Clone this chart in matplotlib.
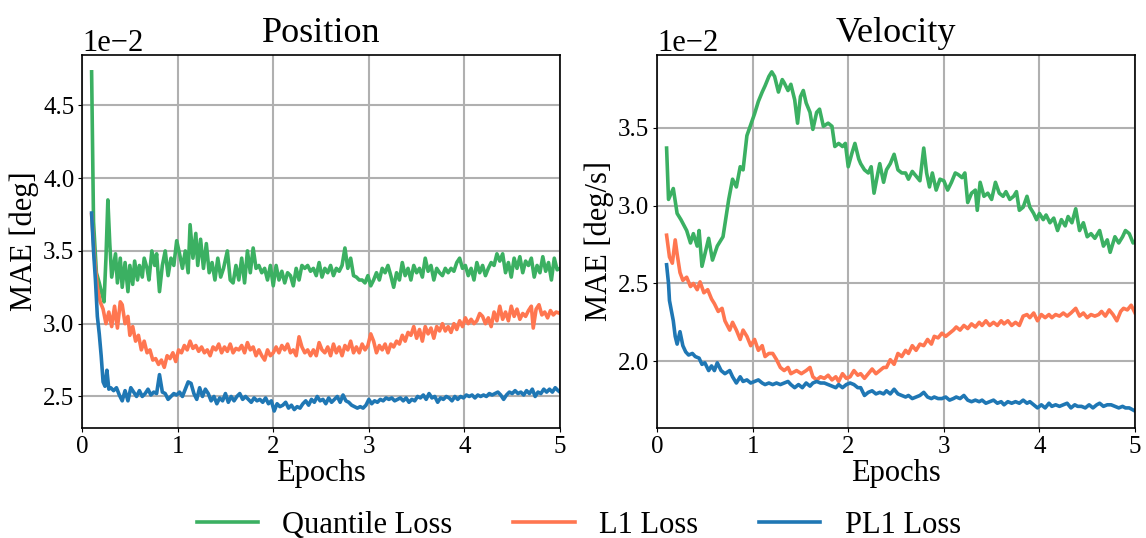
import matplotlib
matplotlib.use("Agg")
import matplotlib.pyplot as plt
import numpy as np

plt.rcParams["font.family"] = ["Liberation Serif", "DejaVu Serif"]
plt.rcParams["mathtext.fontset"] = "stix"

# --- Position panel (values in units of 1e-2 deg) ---
pos_quant_x = [0.10, 0.12, 0.15, 0.18, 0.21, 0.23, 0.25, 0.27, 0.29, 0.31, 0.33, 0.35, 0.37, 0.40, 0.42,
               0.45, 0.48, 0.50, 0.53, 0.55, 0.58, 0.60, 0.63, 0.65, 0.68, 0.70, 0.73, 0.76, 0.78, 0.81,
               0.84, 0.87, 0.90, 0.93, 0.96, 0.99, 1.02, 1.05, 1.08, 1.11, 1.13, 1.16, 1.19, 1.21, 1.24,
               1.27, 1.30, 1.33, 1.36, 1.39, 1.42, 1.45, 1.48, 1.52, 1.55, 1.58, 1.61, 1.64, 1.67, 1.70,
               1.73, 1.76, 1.79, 1.82, 1.85, 1.88, 1.91, 1.94, 1.97, 2.00, 2.03, 2.06, 2.09, 2.12, 2.15,
               2.18, 2.21, 2.24, 2.27, 2.30, 2.33, 2.36, 2.39, 2.42, 2.45, 2.48, 2.51, 2.54, 2.57, 2.60,
               2.63, 2.66, 2.69, 2.72, 2.75, 2.78, 2.81, 2.84, 2.87, 2.90, 2.93, 2.96, 2.99, 3.02, 3.05,
               3.08, 3.11, 3.14, 3.17, 3.20, 3.23, 3.26, 3.29, 3.32, 3.35, 3.38, 3.41, 3.44, 3.47, 3.50,
               3.53, 3.56, 3.59, 3.62, 3.65, 3.68, 3.71, 3.74, 3.77, 3.80, 3.83, 3.86, 3.89, 3.92, 3.95,
               3.98, 4.01, 4.04, 4.07, 4.10, 4.13, 4.16, 4.19, 4.22, 4.25, 4.28, 4.31, 4.34, 4.37, 4.40,
               4.43, 4.46, 4.49, 4.52, 4.55, 4.58, 4.61, 4.64, 4.67, 4.70, 4.73, 4.76, 4.79, 4.82, 4.85,
               4.88, 4.91, 4.94, 4.97, 5.00]
pos_quant_y = [4.73, 3.70, 3.35, 3.28, 3.20, 3.15, 3.45, 3.85, 3.55, 3.32, 3.40, 3.48, 3.28, 3.45, 3.25,
               3.42, 3.22, 3.40, 3.27, 3.43, 3.30, 3.40, 3.32, 3.45, 3.38, 3.30, 3.50, 3.40, 3.48, 3.22,
               3.40, 3.50, 3.33, 3.45, 3.40, 3.57, 3.48, 3.38, 3.50, 3.35, 3.68, 3.45, 3.62, 3.40, 3.58,
               3.38, 3.55, 3.35, 3.42, 3.30, 3.45, 3.32, 3.38, 3.50, 3.30, 3.28, 3.40, 3.30, 3.45, 3.28,
               3.50, 3.35, 3.52, 3.38, 3.40, 3.35, 3.38, 3.30, 3.40, 3.26, 3.40, 3.30, 3.36, 3.28, 3.35,
               3.33, 3.26, 3.38, 3.30, 3.40, 3.38, 3.40, 3.36, 3.38, 3.33, 3.42, 3.32, 3.38, 3.35, 3.40,
               3.33, 3.38, 3.36, 3.40, 3.52, 3.38, 3.45, 3.33, 3.32, 3.30, 3.30, 3.28, 3.33, 3.26, 3.30,
               3.35, 3.30, 3.38, 3.35, 3.40, 3.33, 3.25, 3.35, 3.30, 3.42, 3.33, 3.38, 3.30, 3.40, 3.35,
               3.38, 3.32, 3.45, 3.36, 3.40, 3.30, 3.38, 3.35, 3.33, 3.38, 3.35, 3.38, 3.36, 3.42, 3.45,
               3.38, 3.40, 3.33, 3.38, 3.30, 3.42, 3.35, 3.40, 3.33, 3.38, 3.42, 3.40, 3.48, 3.43, 3.48,
               3.35, 3.42, 3.32, 3.45, 3.38, 3.46, 3.35, 3.43, 3.40, 3.45, 3.32, 3.40, 3.35, 3.46, 3.36,
               3.42, 3.30, 3.45, 3.37, 3.38]

pos_l1_x = [0.10, 0.13, 0.16, 0.19, 0.22, 0.25, 0.28, 0.31, 0.34, 0.37, 0.40, 0.42, 0.45, 0.48, 0.50,
            0.53, 0.56, 0.59, 0.62, 0.65, 0.68, 0.71, 0.74, 0.77, 0.80, 0.83, 0.86, 0.89, 0.92, 0.95,
            0.98, 1.01, 1.04, 1.07, 1.10, 1.13, 1.16, 1.19, 1.22, 1.25, 1.28, 1.31, 1.34, 1.37, 1.40,
            1.43, 1.46, 1.49, 1.52, 1.55, 1.58, 1.61, 1.64, 1.67, 1.70, 1.73, 1.76, 1.79, 1.82, 1.85,
            1.88, 1.91, 1.94, 1.97, 2.00, 2.03, 2.06, 2.09, 2.12, 2.15, 2.18, 2.21, 2.24, 2.27, 2.30,
            2.33, 2.36, 2.39, 2.42, 2.45, 2.48, 2.51, 2.54, 2.57, 2.60, 2.63, 2.66, 2.69, 2.72, 2.75,
            2.78, 2.81, 2.84, 2.87, 2.90, 2.93, 2.96, 2.99, 3.02, 3.05, 3.08, 3.11, 3.14, 3.17, 3.20,
            3.23, 3.26, 3.29, 3.32, 3.35, 3.38, 3.41, 3.44, 3.47, 3.50, 3.53, 3.56, 3.59, 3.62, 3.65,
            3.68, 3.71, 3.74, 3.77, 3.80, 3.83, 3.86, 3.89, 3.92, 3.95, 3.98, 4.01, 4.04, 4.07, 4.10,
            4.13, 4.16, 4.19, 4.22, 4.25, 4.28, 4.31, 4.34, 4.37, 4.40, 4.43, 4.46, 4.49, 4.52, 4.55,
            4.58, 4.61, 4.64, 4.67, 4.70, 4.72, 4.75, 4.78, 4.81, 4.84, 4.87, 4.90, 4.93, 4.96, 5.00]
pos_l1_y = [3.75, 3.45, 3.25, 3.15, 3.10, 3.00, 3.08, 2.98, 3.12, 2.97, 3.15, 3.13, 3.00, 3.05, 2.92,
            2.98, 2.88, 2.92, 2.82, 2.88, 2.80, 2.82, 2.75, 2.76, 2.72, 2.75, 2.70, 2.78, 2.76, 2.80,
            2.74, 2.82, 2.80, 2.85, 2.82, 2.88, 2.83, 2.85, 2.81, 2.84, 2.80, 2.82, 2.78, 2.84, 2.82,
            2.86, 2.80, 2.84, 2.81, 2.86, 2.80, 2.83, 2.82, 2.85, 2.80, 2.87, 2.82, 2.84, 2.78, 2.82,
            2.78, 2.75, 2.82, 2.78, 2.80, 2.84, 2.80, 2.85, 2.82, 2.86, 2.80, 2.82, 2.78, 2.91, 2.84,
            2.80, 2.82, 2.78, 2.82, 2.78, 2.87, 2.82, 2.80, 2.84, 2.78, 2.86, 2.80, 2.84, 2.78, 2.85,
            2.82, 2.88, 2.80, 2.84, 2.80, 2.86, 2.82, 2.85, 2.93, 2.88, 2.80, 2.85, 2.82, 2.86, 2.80,
            2.86, 2.84, 2.88, 2.86, 2.92, 2.88, 2.94, 2.92, 2.98, 2.90, 2.96, 2.88, 2.98, 2.93, 2.97,
            2.90, 2.98, 2.95, 3.00, 2.95, 2.98, 2.94, 3.00, 2.96, 3.02, 2.98, 3.04, 3.00, 3.03, 3.00,
            3.02, 3.07, 3.05, 3.00, 3.04, 2.98, 3.08, 3.02, 3.12, 3.03, 3.08, 3.02, 3.12, 3.05, 3.10,
            3.03, 3.07, 3.05, 3.09, 3.12, 2.97, 3.10, 3.13, 3.06, 3.08, 3.04, 3.09, 3.06, 3.08, 3.07]

pos_pl1_x = [0.10, 0.12, 0.14, 0.16, 0.18, 0.20, 0.22, 0.24, 0.26, 0.28, 0.30, 0.33, 0.36, 0.39, 0.42,
             0.45, 0.48, 0.51, 0.54, 0.57, 0.60, 0.63, 0.66, 0.69, 0.72, 0.75, 0.78, 0.81, 0.84, 0.87,
             0.90, 0.93, 0.96, 0.99, 1.02, 1.05, 1.08, 1.11, 1.14, 1.17, 1.20, 1.23, 1.26, 1.29, 1.32,
             1.35, 1.38, 1.41, 1.44, 1.47, 1.50, 1.53, 1.56, 1.59, 1.62, 1.65, 1.68, 1.71, 1.74, 1.77,
             1.80, 1.83, 1.86, 1.89, 1.92, 1.95, 1.98, 2.01, 2.04, 2.07, 2.10, 2.13, 2.16, 2.19, 2.22,
             2.25, 2.28, 2.31, 2.34, 2.37, 2.40, 2.43, 2.46, 2.49, 2.52, 2.55, 2.58, 2.61, 2.64, 2.67,
             2.70, 2.73, 2.76, 2.79, 2.82, 2.85, 2.88, 2.91, 2.94, 2.97, 3.00, 3.03, 3.06, 3.09, 3.12,
             3.15, 3.18, 3.21, 3.24, 3.27, 3.30, 3.33, 3.36, 3.39, 3.42, 3.45, 3.48, 3.51, 3.54, 3.57,
             3.60, 3.63, 3.66, 3.69, 3.72, 3.75, 3.78, 3.81, 3.84, 3.87, 3.90, 3.93, 3.96, 3.99, 4.02,
             4.05, 4.08, 4.11, 4.14, 4.17, 4.20, 4.23, 4.26, 4.29, 4.32, 4.35, 4.38, 4.41, 4.44, 4.47,
             4.50, 4.53, 4.56, 4.59, 4.62, 4.65, 4.68, 4.71, 4.74, 4.77, 4.80, 4.83, 4.86, 4.89, 4.92,
             4.95, 4.98, 5.00]
pos_pl1_y = [3.76, 3.50, 3.30, 3.05, 2.93, 2.78, 2.60, 2.57, 2.68, 2.55, 2.56, 2.54, 2.56, 2.51, 2.47,
             2.54, 2.47, 2.56, 2.53, 2.50, 2.54, 2.50, 2.52, 2.55, 2.51, 2.53, 2.52, 2.65, 2.53, 2.52,
             2.48, 2.50, 2.52, 2.51, 2.53, 2.50, 2.55, 2.60, 2.59, 2.52, 2.48, 2.56, 2.50, 2.55, 2.52,
             2.47, 2.50, 2.45, 2.49, 2.47, 2.52, 2.46, 2.50, 2.47, 2.50, 2.52, 2.48, 2.50, 2.48, 2.46,
             2.49, 2.47, 2.48, 2.46, 2.49, 2.45, 2.47, 2.40, 2.45, 2.43, 2.44, 2.46, 2.42, 2.44, 2.41,
             2.43, 2.42, 2.45, 2.47, 2.44, 2.48, 2.46, 2.50, 2.47, 2.48, 2.45, 2.49, 2.46, 2.48, 2.50,
             2.46, 2.51, 2.47, 2.46, 2.44, 2.43, 2.42, 2.43, 2.42, 2.44, 2.48, 2.45, 2.47, 2.46, 2.48,
             2.47, 2.49, 2.48, 2.49, 2.47, 2.48, 2.49, 2.47, 2.49, 2.46, 2.48, 2.47, 2.50, 2.49, 2.51,
             2.48, 2.52, 2.49, 2.50, 2.46, 2.49, 2.48, 2.50, 2.49, 2.47, 2.50, 2.48, 2.50, 2.49, 2.51,
             2.50, 2.51, 2.49, 2.51, 2.50, 2.51, 2.50, 2.52, 2.51, 2.52, 2.53, 2.51, 2.48, 2.51, 2.53,
             2.52, 2.54, 2.52, 2.53, 2.51, 2.54, 2.52, 2.55, 2.50, 2.53, 2.52, 2.55, 2.53, 2.55, 2.53,
             2.56, 2.54, 2.53]

# --- Velocity panel (values in units of 1e-2 deg/s) ---
vel_quant_x = [0.10, 0.12, 0.17, 0.21, 0.25, 0.31, 0.35, 0.38, 0.42, 0.44, 0.47, 0.54, 0.58, 0.63, 0.69,
               0.75, 0.79, 0.83, 0.87, 0.90, 0.94, 0.98, 1.02, 1.06, 1.10, 1.13, 1.17, 1.20, 1.23, 1.27,
               1.31, 1.33, 1.37, 1.40, 1.44, 1.47, 1.50, 1.53, 1.56, 1.60, 1.63, 1.67, 1.70, 1.74, 1.79,
               1.83, 1.86, 1.90, 1.94, 1.97, 2.00, 2.04, 2.07, 2.11, 2.13, 2.17, 2.21, 2.24, 2.27, 2.31,
               2.33, 2.37, 2.40, 2.44, 2.48, 2.52, 2.56, 2.60, 2.63, 2.67, 2.71, 2.75, 2.79, 2.82, 2.85,
               2.88, 2.92, 2.96, 3.00, 3.04, 3.08, 3.12, 3.15, 3.19, 3.22, 3.25, 3.29, 3.33, 3.35, 3.38,
               3.42, 3.46, 3.50, 3.54, 3.58, 3.62, 3.65, 3.69, 3.73, 3.76, 3.79, 3.83, 3.87, 3.90, 3.94,
               3.97, 4.00, 4.04, 4.07, 4.11, 4.15, 4.19, 4.23, 4.27, 4.30, 4.34, 4.38, 4.42, 4.46, 4.50,
               4.54, 4.58, 4.63, 4.67, 4.71, 4.74, 4.79, 4.83, 4.87, 4.90, 4.94, 4.98, 5.00]
vel_quant_y = [3.37, 3.04, 3.11, 2.95, 2.91, 2.84, 2.76, 2.82, 2.74, 2.84, 2.61, 2.79, 2.65, 2.74, 2.80,
               3.04, 3.17, 3.12, 3.25, 3.23, 3.45, 3.52, 3.59, 3.67, 3.73, 3.77, 3.83, 3.86, 3.83, 3.73,
               3.81, 3.79, 3.74, 3.78, 3.68, 3.53, 3.70, 3.74, 3.66, 3.60, 3.49, 3.60, 3.62, 3.51, 3.53,
               3.51, 3.38, 3.40, 3.38, 3.40, 3.25, 3.34, 3.40, 3.30, 3.27, 3.23, 3.21, 3.25, 3.08, 3.21,
               3.27, 3.15, 3.23, 3.27, 3.33, 3.23, 3.21, 3.21, 3.17, 3.22, 3.19, 3.16, 3.37, 3.21, 3.12,
               3.21, 3.10, 3.17, 3.16, 3.10, 3.15, 3.21, 3.20, 3.18, 3.21, 3.02, 3.08, 3.10, 2.97, 3.15,
               3.06, 3.08, 3.04, 3.15, 3.08, 3.06, 3.09, 3.04, 3.06, 3.09, 2.97, 2.99, 3.06, 2.99, 2.95,
               2.91, 2.95, 2.91, 2.94, 2.89, 2.92, 2.84, 2.91, 2.87, 2.93, 2.89, 2.98, 2.84, 2.89, 2.80,
               2.82, 2.79, 2.84, 2.74, 2.78, 2.70, 2.80, 2.76, 2.80, 2.84, 2.82, 2.76, 2.77]

vel_l1_x = [0.10, 0.13, 0.16, 0.19, 0.21, 0.24, 0.27, 0.31, 0.35, 0.38, 0.42, 0.45, 0.49, 0.53, 0.57,
            0.60, 0.64, 0.68, 0.71, 0.76, 0.79, 0.83, 0.87, 0.90, 0.94, 0.98, 1.02, 1.06, 1.10, 1.13,
            1.17, 1.21, 1.25, 1.29, 1.33, 1.37, 1.40, 1.46, 1.51, 1.56, 1.60, 1.63, 1.67, 1.71, 1.75,
            1.79, 1.83, 1.87, 1.90, 1.94, 1.98, 2.02, 2.06, 2.10, 2.13, 2.17, 2.21, 2.25, 2.29, 2.33,
            2.37, 2.40, 2.44, 2.48, 2.52, 2.56, 2.60, 2.63, 2.67, 2.71, 2.75, 2.79, 2.83, 2.87, 2.90,
            2.94, 2.98, 3.02, 3.06, 3.10, 3.13, 3.17, 3.21, 3.25, 3.29, 3.33, 3.37, 3.40, 3.44, 3.48,
            3.52, 3.56, 3.60, 3.63, 3.67, 3.71, 3.75, 3.79, 3.83, 3.87, 3.90, 3.94, 3.98, 4.02, 4.06,
            4.10, 4.13, 4.17, 4.21, 4.25, 4.29, 4.33, 4.38, 4.42, 4.46, 4.50, 4.54, 4.58, 4.62, 4.65,
            4.69, 4.73, 4.77, 4.81, 4.85, 4.88, 4.92, 4.96, 5.00]
vel_l1_y = [2.81, 2.67, 2.63, 2.78, 2.69, 2.57, 2.52, 2.54, 2.48, 2.50, 2.46, 2.51, 2.44, 2.46, 2.40,
            2.37, 2.32, 2.34, 2.26, 2.20, 2.25, 2.20, 2.14, 2.20, 2.16, 2.10, 2.14, 2.07, 2.10, 2.03,
            2.05, 2.05, 2.01, 1.96, 1.94, 1.96, 1.92, 1.94, 1.92, 1.94, 1.96, 1.90, 1.88, 1.90, 1.89,
            1.91, 1.88, 1.90, 1.87, 1.92, 1.89, 1.90, 1.94, 1.91, 1.92, 1.89, 1.92, 1.95, 1.92, 1.94,
            1.96, 1.96, 2.01, 1.98, 2.05, 2.03, 2.07, 2.05, 2.10, 2.07, 2.11, 2.10, 2.14, 2.11, 2.16,
            2.15, 2.18, 2.16, 2.18, 2.20, 2.22, 2.20, 2.23, 2.21, 2.24, 2.22, 2.25, 2.23, 2.26, 2.23,
            2.25, 2.23, 2.26, 2.24, 2.26, 2.23, 2.25, 2.23, 2.29, 2.30, 2.28, 2.31, 2.26, 2.30, 2.28,
            2.30, 2.28, 2.30, 2.29, 2.31, 2.29, 2.31, 2.34, 2.29, 2.31, 2.28, 2.30, 2.29, 2.30, 2.32,
            2.29, 2.33, 2.30, 2.26, 2.32, 2.34, 2.33, 2.36, 2.31]

vel_pl1_x = [0.10, 0.12, 0.13, 0.17, 0.19, 0.21, 0.24, 0.27, 0.30, 0.33, 0.37, 0.40, 0.44, 0.47, 0.50,
             0.54, 0.57, 0.60, 0.63, 0.67, 0.71, 0.76, 0.79, 0.83, 0.87, 0.90, 0.94, 0.98, 1.02, 1.06,
             1.10, 1.13, 1.17, 1.21, 1.25, 1.29, 1.33, 1.37, 1.40, 1.44, 1.48, 1.52, 1.56, 1.60, 1.63,
             1.67, 1.71, 1.75, 1.79, 1.83, 1.87, 1.90, 1.94, 1.98, 2.02, 2.06, 2.10, 2.13, 2.17, 2.21,
             2.25, 2.29, 2.33, 2.37, 2.40, 2.44, 2.48, 2.52, 2.56, 2.60, 2.63, 2.67, 2.71, 2.75, 2.79,
             2.83, 2.87, 2.90, 2.94, 2.98, 3.02, 3.06, 3.10, 3.13, 3.17, 3.21, 3.25, 3.29, 3.33, 3.37,
             3.40, 3.44, 3.48, 3.52, 3.56, 3.60, 3.63, 3.67, 3.71, 3.75, 3.79, 3.83, 3.87, 3.90, 3.94,
             3.98, 4.02, 4.06, 4.10, 4.13, 4.17, 4.21, 4.25, 4.29, 4.33, 4.37, 4.40, 4.44, 4.48, 4.52,
             4.56, 4.60, 4.63, 4.67, 4.71, 4.75, 4.79, 4.83, 4.87, 4.90, 4.94, 5.00]
vel_pl1_y = [2.62, 2.50, 2.39, 2.26, 2.16, 2.11, 2.19, 2.10, 2.06, 2.04, 2.05, 2.03, 2.02, 1.98, 1.99,
             1.94, 1.97, 1.94, 1.99, 1.94, 1.92, 1.94, 1.90, 1.86, 1.90, 1.87, 1.88, 1.86, 1.87, 1.88,
             1.86, 1.85, 1.86, 1.85, 1.86, 1.85, 1.86, 1.87, 1.85, 1.83, 1.85, 1.83, 1.86, 1.84, 1.86,
             1.87, 1.86, 1.86, 1.85, 1.84, 1.83, 1.85, 1.83, 1.85, 1.86, 1.85, 1.83, 1.83, 1.78, 1.80,
             1.81, 1.79, 1.80, 1.79, 1.81, 1.79, 1.82, 1.79, 1.78, 1.77, 1.78, 1.76, 1.77, 1.78, 1.80,
             1.77, 1.76, 1.77, 1.76, 1.76, 1.77, 1.75, 1.76, 1.77, 1.76, 1.78, 1.75, 1.74, 1.75, 1.74,
             1.75, 1.73, 1.74, 1.75, 1.73, 1.74, 1.72, 1.74, 1.73, 1.74, 1.73, 1.75, 1.73, 1.74, 1.72,
             1.70, 1.72, 1.70, 1.73, 1.71, 1.72, 1.71, 1.72, 1.73, 1.70, 1.72, 1.71, 1.71, 1.70, 1.72,
             1.70, 1.72, 1.73, 1.71, 1.72, 1.72, 1.71, 1.70, 1.71, 1.70, 1.70, 1.68]

labels = ["Quantile Loss", "L1 Loss", "PL1 Loss"]
colors = ["#3bb062", "#ff7650", "#1f77b4"]

panels = [
    ("Position", "MAE [deg]",
     [(pos_quant_x, pos_quant_y), (pos_l1_x, pos_l1_y), (pos_pl1_x, pos_pl1_y)]),
    ("Velocity", "MAE [deg/s]",
     [(vel_quant_x, vel_quant_y), (vel_l1_x, vel_l1_y), (vel_pl1_x, vel_pl1_y)]),
]

fig, axes = plt.subplots(1, 2, figsize=(11.46, 5.38), dpi=100)
fig.subplots_adjust(left=0.0716, right=0.9904, bottom=0.2045, top=0.898, wspace=0.203)

for ax, (title, ylabel, series) in zip(axes, panels):
    for (xs, ys), lab, col in zip(series, labels, colors):
        ax.plot(xs, np.array(ys) * 1e-2, color=col, linewidth=2.6, label=lab)
    ax.set_title(title, fontsize=26, pad=9)
    ax.set_xlabel("Epochs", fontsize=22, labelpad=1)
    ax.set_ylabel(ylabel, fontsize=22, labelpad=3)
    ax.set_xlim(0, 5)
    ax.grid(True, color="#b0b0b0", linewidth=1.5)
    ax.set_axisbelow(True)
    ax.ticklabel_format(style="sci", axis="y", scilimits=(0, 0))
    ax.yaxis.get_offset_text().set_fontsize(22)
    ax.tick_params(labelsize=18, length=3, pad=2.5)
    for sp in ax.spines.values():
        sp.set_linewidth(1.2)

handles, labs = axes[0].get_legend_handles_labels()
fig.legend(handles, labs, loc="lower center", ncol=3, frameon=False, fontsize=22,
           bbox_to_anchor=(0.505, -0.055))

fig.savefig("out.png", dpi=100)
